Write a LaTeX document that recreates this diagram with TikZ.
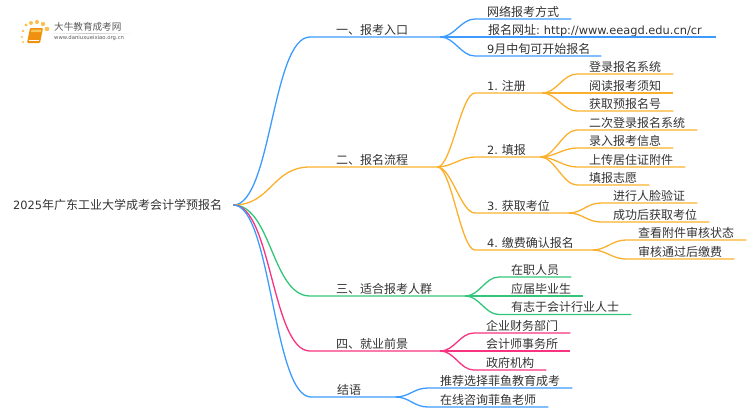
\documentclass[tikz,border=0pt]{standalone}
\usepackage{fontspec}
\setmainfont{DejaVu Sans}[Scale=0.95]
\newfontfamily\cjk{Noto Sans CJK SC}
\frenchspacing
\usetikzlibrary{arrows.meta,positioning}
\definecolor{skyline}{HTML}{3D9BFF}
\definecolor{amberline}{HTML}{FBB02D}
\definecolor{greenline}{HTML}{33C67A}
\definecolor{pinkline}{HTML}{F8337F}
\definecolor{inktext}{HTML}{333333}
\definecolor{bookorange}{HTML}{F0900F}
\definecolor{booklight}{HTML}{FBC75A}
\definecolor{dotyellow}{HTML}{FBC14E}
\tikzset{
  rootnode/.style={anchor=west,inner xsep=11pt,inner ysep=0pt,text width=#1pt,text=inktext,font=\fontsize{12}{12}\selectfont},
  line/.style={anchor=south west,inner ysep=0pt,text height=9pt,text depth=2.4pt,text=inktext,font=\fontsize{12}{12}\selectfont},
  branch/.style={line,inner xsep=26pt,text width=#1pt},
  leaf/.style={line,inner xsep=12pt,text width=#1pt},
  link/.style={line width=1.3pt,#1},
  bend/.style={out=0,in=180,distance=#1pt},
  logotext/.style={inner sep=0pt,anchor=west,text=black!65}
}
\begin{document}
\begin{tikzpicture}[x=1pt,y=-1pt]
\useasboundingbox (0,0) rectangle (750,410);
% logo
\foreach \px/\py/\pr in {23/31/1.4,26/25/1.7,31/23/2,37/22/2.1,43/24/2.2,47/29/2.3,22/37/1.2,23/42/1.1}
  \fill[dotyellow] (\px,\py) circle (\pr);
\fill[bookorange,rounded corners=1pt] (30,28) -- (43,28) -- (40,43) -- (27,43) -- cycle;
\fill[booklight] (31.5,29.5) -- (41.5,29.5) -- (41,32) -- (31,32) -- cycle;
\draw[white,line width=0.7pt] (29,40) -- (39,40);
\node[logotext,font=\cjk\fontsize{9.6}{10}\selectfont] (logoname) at (54,27) {大牛教育成考网};
\node[logotext,font=\fontsize{5.6}{6}\selectfont] (logourl) at (54,38.5) {www.daniuxueixiao.org.cn};
\shade[left color=white,right color=white,middle color=black!22] (47,33) rectangle (133,33.6);
% root
\node[rootnode=209] (root) at (2,205) {2025{\cjk 年广东工业大学成考会计学预报名}};
% first level
\node[branch=78] (b1) at (310,37) {\cjk 一、报考入口};
\node[branch=75] (b2) at (310,167) {\cjk 二、报名流程};
\node[branch=103] (b3) at (310,296) {\cjk 三、适合报考人群};
\node[branch=78] (b4) at (310,351) {\cjk 四、就业前景};
\node[branch=32] (b5) at (311,397) {\cjk 结语};
% second level
\node[leaf=72] (a1) at (475,19) {\cjk 网络报考方式};
\node[leaf=217] (a2) at (475,37) {\hspace*{1pt}{\cjk 报名网址}:~http://www.eeagd.edu.cn/cr};
\node[leaf=102] (a3) at (475,56) {9{\cjk 月中旬可开始报名}};
\node[leaf=43] (s1) at (475,93) {1.~{\cjk 注册}};
\node[leaf=41] (s2) at (475,157) {2.~{\cjk 填报}};
\node[leaf=69] (s3) at (475,213) {3.~{\cjk 获取考位}};
\node[leaf=93] (s4) at (475,250) {4.~{\cjk 缴费确认报名}};
\node[leaf=48] (c1) at (499,277) {\cjk 在职人员};
\node[leaf=60] (c2) at (499,296) {\cjk 应届毕业生};
\node[leaf=108] (c3) at (499,314.5) {\cjk 有志于会计行业人士};
\node[leaf=72] (d1) at (474,333) {\cjk 企业财务部门};
\node[leaf=72] (d2) at (474,351) {\cjk 会计师事务所};
\node[leaf=48] (d3) at (474,370) {\cjk 政府机构};
\node[leaf=120] (e1) at (428,388) {\cjk 推荐选择菲鱼教育成考};
\node[leaf=96] (e2) at (428,407) {\cjk 在线咨询菲鱼老师};
% third level
\node[leaf=72] (s11) at (577,74) {\cjk 登录报名系统};
\node[leaf=72] (s12) at (577,93) {\cjk 阅读报考须知};
\node[leaf=72] (s13) at (577,111) {\cjk 获取预报名号};
\node[leaf=96] (s21) at (577,130) {\cjk 二次登录报名系统};
\node[leaf=72] (s22) at (577,148) {\cjk 录入报考信息};
\node[leaf=84] (s23) at (577,167) {\cjk 上传居住证附件};
\node[leaf=48] (s24) at (577,185) {\cjk 填报志愿};
\node[leaf=72] (s31) at (601,203) {\cjk 进行人脸验证};
\node[leaf=84] (s32) at (601,222) {\cjk 成功后获取考位};
\node[leaf=96] (s41) at (626,240) {\cjk 查看附件审核状态};
\node[leaf=84] (s42) at (626,259) {\cjk 审核通过后缴费};
% connectors
\draw[link=skyline] (root.east) to[bend=38] (b1.south west) -- (b1.south east);
\draw[link=amberline] (root.east) to[bend=38] (b2.south west) -- (b2.south east);
\draw[link=greenline] (root.east) to[bend=38] (b3.south west) -- (b3.south east);
\draw[link=pinkline] (root.east) to[bend=38] (b4.south west) -- (b4.south east);
\draw[link=skyline] (root.east) to[bend=38] (b5.south west) -- (b5.south east);
\foreach \from/\to in {b1/a1,b1/a2,b1/a3}
  \draw[link=skyline] (\from.south east) to[bend=14] (\to.south west) -- (\to.south east);
\foreach \from/\to in {b2/s1,b2/s2,b2/s3,b2/s4,s1/s11,s1/s12,s1/s13,s2/s21,s2/s22,s2/s23,s2/s24,s3/s31,s3/s32,s4/s41,s4/s42}
  \draw[link=amberline] (\from.south east) to[bend=14] (\to.south west) -- (\to.south east);
\foreach \from/\to in {b3/c1,b3/c2,b3/c3}
  \draw[link=greenline] (\from.south east) to[bend=14] (\to.south west) -- (\to.south east);
\foreach \from/\to in {b4/d1,b4/d2,b4/d3}
  \draw[link=pinkline] (\from.south east) to[bend=14] (\to.south west) -- (\to.south east);
\foreach \from/\to in {b5/e1,b5/e2}
  \draw[link=skyline] (\from.south east) to[bend=14] (\to.south west) -- (\to.south east);
\end{tikzpicture}
\end{document}
